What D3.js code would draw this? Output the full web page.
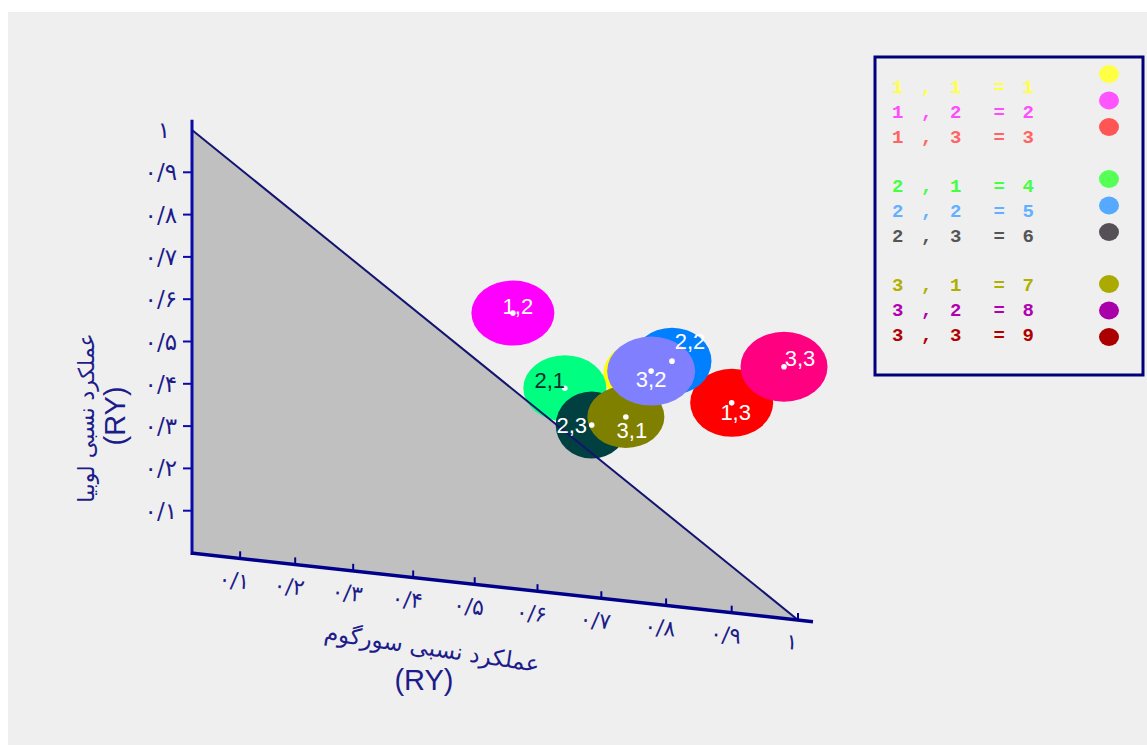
<!DOCTYPE html>
<html><head><meta charset="utf-8">
<script src="https://cdn.jsdelivr.net/npm/d3@7"></script>
<style>html,body{margin:0;padding:0;background:#fff;overflow:hidden}</style>
</head><body>
<svg id="chart" width="1147" height="745"></svg>
<script>
// ---------- data ----------
const treatments = ["1,1","1,2","1,3","2,1","2,2","2,3","3,1","3,2","3,3"];
const sorghumRY  = [0.768,0.561,0.900,0.643,0.809,0.685,0.738,0.777,0.979];
const beanRY     = [0.542,0.651,0.496,0.487,0.579,0.407,0.435,0.550,0.595];
const bubbleColors = ["#ffff00","#ff00ff","#ff0000","#00ff80","#0080ff","#004040","#808000","#8080ff","#ff0080"];
const labelColors  = ["#ffffff","#ffffff","#ffffff","#0a3030","#ffffff","#ffffff","#ffffff","#ffffff","#ffffff"];
const showMarker   = [false,true,true,true,true,true,true,true,true];

const tickValues = [0.1,0.2,0.3,0.4,0.5,0.6,0.7,0.8,0.9,1];
const tickLabels = ["۰/۱","۰/۲","۰/۳","۰/۴","۰/۵","۰/۶","۰/۷","۰/۸","۰/۹","۱"];

const xTitle = "عملکرد نسبی سورگوم";
const yTitle = "عملکرد نسبی لوبیا";
const unitLabel = "(RY)";

const legendPairs = ["1 , 1","1 , 2","1 , 3","2 , 1","2 , 2","2 , 3","3 , 1","3 , 2","3 , 3"];
const legendCodes = ["1","2","3","4","5","6","7","8","9"];
const legendTextColors   = ["#ffff44","#ff4cff","#ff6464","#44ff44","#62b0ff","#555555","#b0b000","#b000b0","#b00000"];
const legendMarkerColors = ["#ffff44","#ff55ff","#ff5555","#55ff55","#55aaff","#555055","#aaaa00","#aa00aa","#aa0000"];

// ---------- layout / style ----------
const labelOffsets = [[0,0],[5,-7],[4,10],[-15,-8],[18,-20],[-20,0],[6,14],[0,8],[16,-8]];
const bubbleSizes  = [[42,33],[41.5,32.5],[41.5,34],[41.5,33],[39.5,33.5],[36,33.5],[38.5,31],[44,34.5],[43.5,35]];
const X0 = 192, X1 = 798, Y0 = 553, Y1 = 130, SLANT = 67;
const NAVY = "#00008b", BLUE = "#0a0aa8", TXT = "#1c1c8a";
const FA = "'DejaVu Sans', sans-serif";

const svg = d3.select("#chart");
svg.append("rect").attr("x",8).attr("y",12).attr("width",1147-8).attr("height",745-12).attr("fill","#efefef");

const xS = d3.scalePow().exponent(1.1).domain([0,1]).range([X0,X1]);
const yS = d3.scaleLinear().domain([0,1]).range([Y0,Y1]);
const slant = d3.scaleLinear().domain([X0,X1]).range([0,SLANT]);
const P = (u,v) => { const x = xS(u); return [x, yS(v) + slant(x)]; };
const angle = Math.atan2(SLANT, X1-X0) * 180 / Math.PI;

// triangle
svg.append("polygon")
  .attr("points", [P(0,0),P(0,1),P(1,0)].map(p=>p.join(",")).join(" "))
  .attr("fill","#c0c0c0");

// bubbles
const pts = treatments.map((t,i)=>({t, i, p:P(sorghumRY[i], beanRY[i])}));
svg.append("g").selectAll("ellipse").data(pts).join("ellipse")
  .attr("cx",d=>d.p[0]).attr("cy",d=>d.p[1])
  .attr("rx",d=>bubbleSizes[d.i][0]).attr("ry",d=>bubbleSizes[d.i][1])
  .attr("fill",d=>bubbleColors[d.i]);

// diagonal
svg.append("line")
  .attr("x1",P(0,1)[0]).attr("y1",P(0,1)[1])
  .attr("x2",P(1,0)[0]).attr("y2",P(1,0)[1])
  .attr("stroke","#141470").attr("stroke-width",2);

// y axis
svg.append("line").attr("x1",X0).attr("x2",X0).attr("y1",yS(1.024)).attr("y2",Y0+2)
  .attr("stroke",BLUE).attr("stroke-width",3);
const yt = svg.append("g");
tickValues.forEach((v,k)=>{
  if (v < 1) {
    yt.append("line").attr("x1",X0-9).attr("x2",X0).attr("y1",yS(v)).attr("y2",yS(v))
      .attr("stroke",BLUE).attr("stroke-width",2);
  }
  yt.append("text")
    .attr("x", v < 1 ? X0-15 : X0-22).attr("y", yS(v))
    .attr("text-anchor","end")
    .attr("dominant-baseline","central")
    .attr("font-family",FA).attr("font-size",23).attr("letter-spacing", 6)
    .attr("fill",TXT).text(tickLabels[k]);
});

// x axis
const xEnd = X1 + 15;
svg.append("line").attr("x1",X0-1).attr("y1",Y0).attr("x2",xEnd).attr("y2",Y0+slant(xEnd))
  .attr("stroke",NAVY).attr("stroke-width",3.5);
const xt = svg.append("g");
tickValues.forEach((u,k)=>{
  const p = P(u,0);
  xt.append("line").attr("x1",p[0]).attr("x2",p[0]).attr("y1",p[1]).attr("y2",p[1]-7)
    .attr("stroke",NAVY).attr("stroke-width",2);
  xt.append("text")
    .attr("transform",`translate(${p[0]-6},${p[1]+22}) rotate(${angle})`)
    .attr("text-anchor","middle").attr("dominant-baseline","central")
    .attr("font-family",FA).attr("font-size",22).attr("letter-spacing",5)
    .attr("fill",TXT).text(tickLabels[k]);
});

// dots and labels (on top)
svg.append("g").selectAll("circle").data(pts.filter(d=>showMarker[d.i])).join("circle")
  .attr("cx",d=>d.p[0]).attr("cy",d=>d.p[1]).attr("r",2.8).attr("fill","#ffffff");
svg.append("g").selectAll("text").data(pts.filter(d=>showMarker[d.i])).join("text")
  .attr("x",d=>d.p[0]+labelOffsets[d.i][0]).attr("y",d=>d.p[1]+labelOffsets[d.i][1])
  .attr("text-anchor","middle").attr("dominant-baseline","central")
  .attr("font-family","'Liberation Sans', Arial, sans-serif").attr("font-size",22)
  .attr("fill",d=>labelColors[d.i]).text(d=>d.t);

// axis titles
svg.append("text").attr("transform","translate(86,418) rotate(-90)")
  .attr("text-anchor","middle").attr("dominant-baseline","central")
  .attr("font-family",FA).attr("font-size",22).attr("fill",TXT).text(yTitle);
svg.append("text").attr("transform","translate(115,416) rotate(-90)")
  .attr("text-anchor","middle").attr("dominant-baseline","central")
  .attr("font-family","'Liberation Sans', Arial, sans-serif").attr("font-size",29).attr("fill",TXT).text(unitLabel);
svg.append("text").attr("transform","translate(432,648) rotate(8.5)")
  .attr("text-anchor","middle").attr("dominant-baseline","central")
  .attr("font-family",FA).attr("font-size",23).attr("fill",TXT).text(xTitle);
svg.append("text").attr("x",424).attr("y",680)
  .attr("text-anchor","middle").attr("dominant-baseline","central")
  .attr("font-family","'Liberation Sans', Arial, sans-serif").attr("font-size",29).attr("fill",TXT).text(unitLabel);

// legend
const lg = svg.append("g");
lg.append("rect").attr("x",875).attr("y",57).attr("width",268).attr("height",318)
  .attr("fill","none").attr("stroke","#00007a").attr("stroke-width",3);
legendPairs.forEach((s,i)=>{
  const grp = Math.floor(i/3), r = i%3;
  const ty = 88 + grp*99 + r*25;
  const my = 74 + grp*105 + r*26.5;
  lg.append("text").attr("x",892).attr("y",ty)
    .attr("dominant-baseline","central").attr("xml:space","preserve")
    .style("white-space","pre")
    .attr("font-family","'Liberation Mono', monospace").attr("font-size",19).attr("font-weight","bold")
    .attr("letter-spacing",3.1)
    .attr("fill",legendTextColors[i]).text(`${s}  = ${legendCodes[i]}`);
  lg.append("ellipse").attr("cx",1109).attr("cy",my).attr("rx",10).attr("ry",9)
    .attr("fill",legendMarkerColors[i]);
});
</script>
</body></html>
